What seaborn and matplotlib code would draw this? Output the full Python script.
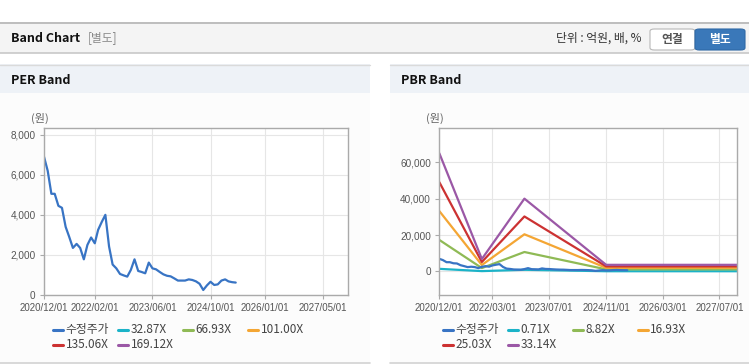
import pandas as pd
import matplotlib.pyplot as plt
from matplotlib.patches import Rectangle, FancyBboxPatch
from matplotlib.lines import Line2D
import seaborn as sns

# 1. DATA
price_start = '2020-12-01'
price = [6900, 6200, 5050, 5050, 4450, 4350, 3400, 2900, 2350, 2550,
         2350, 1780, 2500, 2870, 2580, 3250, 3650, 4000, 2420, 1520,
         1330, 1050, 980, 917, 1250, 1780, 1200, 1150, 1083, 1617,
         1330, 1280, 1150, 1030, 960, 930, 830, 720, 720, 720,
         780, 750, 680, 560, 250, 480, 660, 500, 530, 720,
         780, 680, 640, 620]

per_labels = ['수정주가', '32.87X', '66.93X', '101.00X', '135.06X', '169.12X']
pbr_labels = ['수정주가', '0.71X', '8.82X', '16.93X', '25.03X', '33.14X']

band_dates = ['2020-12-01', '2021-12-01', '2022-12-01', '2024-11-01', '2027-12-01']
pbr_071 = [1390, 146, 857, 75, 75]
pbr_882 = [17300, 1810, 10650, 1100, 1100]
pbr_1693 = [33200, 3480, 20400, 1950, 1950]
pbr_2503 = [49100, 5150, 30200, 2750, 2750]
pbr_3314 = [65000, 6800, 40000, 3600, 3600]

per_xticks = ['2020-12-01', '2022-02-01', '2023-06-01', '2024-10-01', '2026-01-01', '2027-05-01']
pbr_xticks = ['2020-12-01', '2022-03-01', '2023-07-01', '2024-11-01', '2026-03-01', '2027-07-01']
per_yticks = [0, 2000, 4000, 6000, 8000]
pbr_yticks = [0, 20000, 40000, 60000]

colors = ['#3874c4', '#1bb3c8', '#8fba55', '#f4a634', '#cc3232', '#9b58a6']

# 2. FIGURE SETUP
sns.set_theme(style='white')
plt.rcParams['font.family'] = ['Noto Sans CJK KR', 'DejaVu Sans']
W, H = 749, 364
fig = plt.figure(figsize=(W / 100, H / 100), dpi=100)
fig.patch.set_facecolor('white')
tick_font = ['Liberation Sans', 'DejaVu Sans']


def rect(x, y, w, h, fc, ec='none', z=0):
    fig.add_artist(Rectangle((x / W, 1 - (y + h) / H), w / W, h / H,
                             transform=fig.transFigure, facecolor=fc,
                             edgecolor=ec, lw=1, zorder=z))


def hline(x0, x1, y, c, lw=1.0):
    fig.add_artist(Line2D([x0 / W, x1 / W], [1 - y / H] * 2,
                          transform=fig.transFigure, color=c, lw=lw, zorder=1))


def text(x, y, s, **kw):
    fig.text(x / W, 1 - y / H, s, va='center', **kw)


# header bar
rect(0, 22, W, 31, '#f4f4f4')
hline(0, W, 22.5, '#b4b4b4', 1.2)
hline(0, W, 53, '#c8c8c8', 1.2)
text(11, 38, 'Band Chart', fontsize=9, fontweight='bold', color='#111111')
text(88, 38, '[별도]', fontsize=8.5, color='#8a8a8a')
text(642, 38, '단위 : 억원, 배, %', fontsize=8.5, color='#333333', ha='right')
fig.add_artist(FancyBboxPatch((650 / W, 1 - 50 / H), 45 / W, 21 / H,
                              boxstyle='round,pad=0,rounding_size=0.006',
                              transform=fig.transFigure, facecolor='white',
                              edgecolor='#b8b8b8', lw=0.8, zorder=2))
text(672.5, 39, '연결', fontsize=8.5, color='#555555', ha='center', fontweight='bold', zorder=3)
fig.add_artist(FancyBboxPatch((695 / W, 1 - 50 / H), 50 / W, 21 / H,
                              boxstyle='round,pad=0,rounding_size=0.006',
                              transform=fig.transFigure, facecolor='#3a78b9',
                              edgecolor='#2f69a6', lw=0.8, zorder=2))
text(720, 39, '별도', fontsize=8.5, color='white', ha='center', fontweight='bold', zorder=3)

# panels
for px, pw, title in [(0, 370, 'PER Band'), (390, 359, 'PBR Band')]:
    rect(px, 64, pw, 298, '#fcfcfc')
    rect(px, 64, pw, 29, '#eef2f7')
    hline(px, px + pw, 64.5, '#dadada', 1.0)
    hline(px, px + pw, 362.5, '#d2d2d2', 1.2)
    text(px + 11, 80, title, fontsize=9, fontweight='bold', color='#111111')


def setup_axes(box, xticks, yticks, ylim):
    ax = fig.add_axes([box[0] / W, 1 - box[3] / H, (box[2] - box[0]) / W, (box[3] - box[1]) / H])
    ax.set_facecolor('white')
    ax.set_xlim(pd.Timestamp('2020-12-01'), pd.Timestamp('2027-12-01'))
    ax.set_ylim(*ylim)
    xt = pd.to_datetime(xticks)
    ax.set_xticks(xt)
    ax.set_xticklabels([d.strftime('%Y/%m/%d') for d in xt], fontfamily=tick_font, fontsize=7, color='#555555')
    ax.set_yticks(yticks)
    ax.set_yticklabels([f'{v:,}' for v in yticks], fontfamily=tick_font, fontsize=7.2, color='#555555')
    ax.grid(True, color='#e6e6e6', lw=0.8)
    ax.tick_params(length=3, width=0.8, color='#aaaaaa', pad=3, bottom=True, left=True)
    for sp in ax.spines.values():
        sp.set_color('#aaaaaa')
        sp.set_linewidth(1.0)
    return ax


price_dates = pd.date_range(price_start, periods=len(price), freq='MS')
bd = pd.to_datetime(band_dates)

# 3. PER BAND
ax1 = setup_axes((44, 128, 348, 295), per_xticks, per_yticks, (0, 8333))
sns.lineplot(x=price_dates, y=price, ax=ax1, color=colors[0], lw=1.6, legend=False)
ax1.set_xlabel('')
ax1.set_ylabel('')
text(39.5, 118, '(원)', fontsize=8, color='#666666', ha='center')

# 4. PBR BAND
ax2 = setup_axes((439.3, 128.3, 737.3, 295), pbr_xticks, pbr_yticks, (-13000, 78700))
for vals, c in zip([pbr_071, pbr_882, pbr_1693, pbr_2503, pbr_3314], colors[1:]):
    sns.lineplot(x=bd, y=vals, ax=ax2, color=c, lw=1.6, legend=False)
sns.lineplot(x=price_dates, y=price, ax=ax2, color=colors[0], lw=1.6, legend=False)
ax2.set_xlabel('')
ax2.set_ylabel('')
text(434.5, 118, '(원)', fontsize=8, color='#666666', ha='center')

# 5. LEGENDS (grid of 4 columns, 65px apart)
for x0, labels in [(53, per_labels), (442.7, pbr_labels)]:
    for i, (lab, c) in enumerate(zip(labels, colors)):
        lx = x0 + 65 * (i % 4)
        ly = 329.5 + 15 * (i // 4)
        fig.add_artist(Line2D([lx / W, (lx + 10) / W], [1 - ly / H] * 2,
                              transform=fig.transFigure, color=c, lw=2.2))
        text(lx + 12.5, ly, lab, fontsize=8.5, color='#444444')

plt.savefig('out.png', dpi=100)
